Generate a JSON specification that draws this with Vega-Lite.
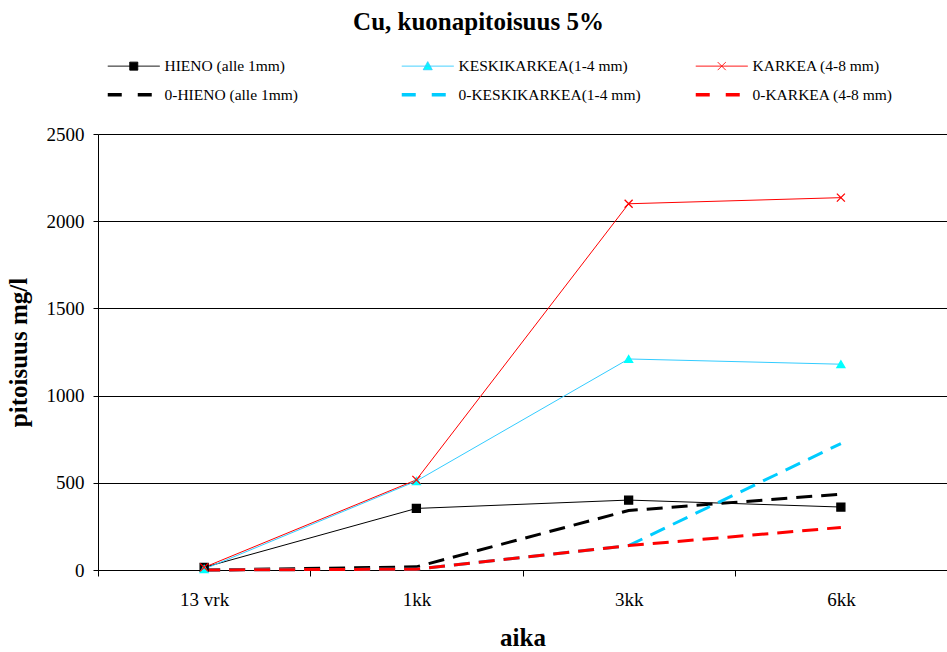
{
  "$schema": "https://vega.github.io/schema/vega-lite/v6.json",
  "width": 849,
  "height": 436,
  "autosize": {"type": "none"},
  "padding": {"left": 98, "top": 134, "right": 0, "bottom": 82},
  "background": "white",
  "config": {
    "font": "Liberation Serif",
    "view": {"stroke": null},
    "axis": {"labelFont": "Liberation Serif", "titleFont": "Liberation Serif", "labelColor": "black", "titleColor": "black"},
    "legend": {"labelFont": "Liberation Serif", "labelColor": "black"}
  },
  "title": {
    "text": "Cu, kuonapitoisuus 5%",
    "font": "Liberation Serif",
    "fontSize": 25,
    "fontWeight": "bold",
    "color": "black",
    "anchor": "middle",
    "frame": "group",
    "dx": -44,
    "offset": 23
  },
  "data": {
    "values": [
      {"aika": "13 vrk", "sarja": "HIENO (alle 1mm)", "arvo": 15},
      {"aika": "1kk", "sarja": "HIENO (alle 1mm)", "arvo": 353},
      {"aika": "3kk", "sarja": "HIENO (alle 1mm)", "arvo": 401},
      {"aika": "6kk", "sarja": "HIENO (alle 1mm)", "arvo": 361},
      {"aika": "13 vrk", "sarja": "KESKIKARKEA(1-4 mm)", "arvo": 5},
      {"aika": "1kk", "sarja": "KESKIKARKEA(1-4 mm)", "arvo": 510},
      {"aika": "3kk", "sarja": "KESKIKARKEA(1-4 mm)", "arvo": 1210},
      {"aika": "6kk", "sarja": "KESKIKARKEA(1-4 mm)", "arvo": 1180},
      {"aika": "13 vrk", "sarja": "KARKEA (4-8 mm)", "arvo": 15},
      {"aika": "1kk", "sarja": "KARKEA (4-8 mm)", "arvo": 517},
      {"aika": "3kk", "sarja": "KARKEA (4-8 mm)", "arvo": 2100},
      {"aika": "6kk", "sarja": "KARKEA (4-8 mm)", "arvo": 2135},
      {"aika": "13 vrk", "sarja": "0-HIENO (alle 1mm)", "arvo": 0},
      {"aika": "1kk", "sarja": "0-HIENO (alle 1mm)", "arvo": 18},
      {"aika": "3kk", "sarja": "0-HIENO (alle 1mm)", "arvo": 341},
      {"aika": "6kk", "sarja": "0-HIENO (alle 1mm)", "arvo": 435},
      {"aika": "13 vrk", "sarja": "0-KESKIKARKEA(1-4 mm)", "arvo": 0},
      {"aika": "1kk", "sarja": "0-KESKIKARKEA(1-4 mm)", "arvo": 5},
      {"aika": "3kk", "sarja": "0-KESKIKARKEA(1-4 mm)", "arvo": 140},
      {"aika": "6kk", "sarja": "0-KESKIKARKEA(1-4 mm)", "arvo": 725},
      {"aika": "13 vrk", "sarja": "0-KARKEA (4-8 mm)", "arvo": 0},
      {"aika": "1kk", "sarja": "0-KARKEA (4-8 mm)", "arvo": 5},
      {"aika": "3kk", "sarja": "0-KARKEA (4-8 mm)", "arvo": 140},
      {"aika": "6kk", "sarja": "0-KARKEA (4-8 mm)", "arvo": 244}
    ]
  },
  "encoding": {
    "x": {
      "field": "aika",
      "type": "ordinal",
      "sort": ["13 vrk", "1kk", "3kk", "6kk"],
      "scale": {"type": "band", "paddingInner": 0, "paddingOuter": 0},
      "axis": {
        "title": "aika",
        "titleFontSize": 25,
        "titleFontWeight": "bold",
        "titlePadding": 16,
        "labelAngle": 0,
        "labelFontSize": 19,
        "labelPadding": 14,
        "tickBand": "extent",
        "tickSize": 6,
        "tickColor": "black",
        "domainColor": "black",
        "grid": false
      }
    },
    "y": {
      "field": "arvo",
      "type": "quantitative",
      "scale": {"domain": [0, 2500], "nice": false},
      "axis": {
        "title": "pitoisuus mg/l",
        "titleFontSize": 25,
        "titleFontWeight": "bold",
        "titlePadding": 15,
        "values": [0, 500, 1000, 1500, 2000, 2500],
        "format": "d",
        "labelFontSize": 19,
        "labelPadding": 9,
        "tickSize": 5,
        "tickColor": "black",
        "domainColor": "black",
        "grid": true,
        "gridColor": "black",
        "gridOpacity": 1,
        "gridWidth": 1
      }
    }
  },
  "layer": [
    {
      "transform": [
        {"filter": {"field": "sarja", "oneOf": ["HIENO (alle 1mm)", "KESKIKARKEA(1-4 mm)", "KARKEA (4-8 mm)"]}}
      ],
      "mark": {"type": "line", "strokeWidth": 1},
      "encoding": {
        "color": {
          "field": "sarja",
          "type": "nominal",
          "scale": {
            "domain": ["HIENO (alle 1mm)", "KESKIKARKEA(1-4 mm)", "KARKEA (4-8 mm)", "0-HIENO (alle 1mm)", "0-KESKIKARKEA(1-4 mm)", "0-KARKEA (4-8 mm)"],
            "range": ["#000000", "#33CCFF", "#FF0000", "#000000", "#00CCFF", "#FF0000"]
          },
          "legend": {
            "title": null,
            "orient": "none",
            "legendX": 28,
            "legendY": -76,
            "direction": "horizontal",
            "columns": 3,
            "gridAlign": "all",
            "columnPadding": 47,
            "rowPadding": 12,
            "padding": 0,
            "symbolSize": 256,
            "labelFontSize": 15.5,
            "labelOffset": 23,
            "labelLimit": 300,
            "encode": {
              "symbols": {
                "update": {
                  "shape": {"signal": "datum.value === 'HIENO (alle 1mm)' ? 'M-3.25,0H3.25M-0.5,-0.5H0.5V0.5H-0.5Z' : datum.value === 'KESKIKARKEA(1-4 mm)' ? 'M-3.25,0H3.25M0,-0.56L0.56,0.45H-0.56Z' : datum.value === 'KARKEA (4-8 mm)' ? 'M-3.25,0H3.25M-0.5,-0.5L0.5,0.5M-0.5,0.5L0.5,-0.5' : 'M-3.25,0H3.25'"},
                  "fill": {"signal": "datum.value === 'KESKIKARKEA(1-4 mm)' ? '#00FFFF' : scale('color', datum.value)"},
                  "fillOpacity": {"value": 1},
                  "stroke": {"signal": "scale('color', datum.value)"},
                  "strokeOpacity": {"value": 1},
                  "strokeWidth": {"signal": "substring(datum.value, 0, 2) === '0-' ? 3.5 : 1"},
                  "strokeDash": {"signal": "substring(datum.value, 0, 2) === '0-' ? '14,16' : '1,0'"}
                }
              }
            }
          }
        }
      }
    },
    {
      "transform": [
        {"filter": {"field": "sarja", "oneOf": ["0-HIENO (alle 1mm)", "0-KESKIKARKEA(1-4 mm)", "0-KARKEA (4-8 mm)"]}}
      ],
      "mark": {"type": "line", "strokeWidth": 3, "strokeDash": [16, 9]},
      "encoding": {
        "color": {"field": "sarja", "type": "nominal"}
      }
    },
    {
      "transform": [
        {"filter": {"field": "sarja", "oneOf": ["HIENO (alle 1mm)", "KESKIKARKEA(1-4 mm)", "KARKEA (4-8 mm)"]}}
      ],
      "mark": {"type": "point", "filled": true, "size": 64, "strokeWidth": 1.3, "opacity": 1},
      "encoding": {
        "shape": {
          "field": "sarja",
          "type": "nominal",
          "scale": {
            "domain": ["HIENO (alle 1mm)", "KESKIKARKEA(1-4 mm)", "KARKEA (4-8 mm)"],
            "range": ["square", "triangle-up", "M-1,-1L1,1M-1,1L1,-1"]
          },
          "legend": null
        },
        "fill": {
          "field": "sarja",
          "type": "nominal",
          "scale": {
            "domain": ["HIENO (alle 1mm)", "KESKIKARKEA(1-4 mm)", "KARKEA (4-8 mm)"],
            "range": ["#000000", "#00FFFF", "#FF0000"]
          },
          "legend": null
        },
        "stroke": {
          "field": "sarja",
          "type": "nominal",
          "scale": {
            "domain": ["HIENO (alle 1mm)", "KESKIKARKEA(1-4 mm)", "KARKEA (4-8 mm)"],
            "range": ["#000000", "#00FFFF", "#FF0000"]
          },
          "legend": null
        }
      }
    }
  ]
}
